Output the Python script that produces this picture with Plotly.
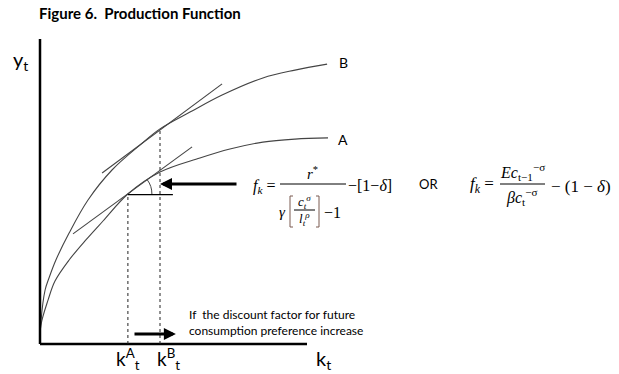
import plotly.graph_objects as go

W, H = 619, 374

# curves (k units, output units)
k_B = [0, 0.03, 0.17, 0.3, 0.53, 0.97, 1.6, 2.4, 3.33, 4.0, 5.0, 6.07, 7.43, 8.5, 9.57]
y_B = [0, 0.73, 1.8, 2.2, 2.8, 3.7, 4.8, 5.8, 6.63, 7.17, 7.73, 8.3, 8.87, 9.13, 9.33]
k_A = [0, 0.03, 0.27, 0.5, 0.97, 1.53, 2.1, 2.93, 4.0, 5.33, 6.33, 7.43, 8.5, 9.6]
y_A = [0, 0.63, 1.47, 2.1, 2.8, 3.47, 4.1, 5.0, 5.73, 6.2, 6.5, 6.73, 6.83, 6.87]

# tangent segments
tan_B_k = [2.07, 6.07]
tan_B_y = [5.7, 8.67]
tan_A_k = [1.1, 5.07]
tan_A_y = [3.67, 6.57]

# steady-state capital points
k_star = [2.93, 4.0]
y_star = [5.0, 7.15]
k_max, y_max = 8.9, 10.17

# pixel helpers for paper-positioned text
def px(x):
    return x / W

def py(y):
    return 1 - y / H

fig = go.Figure()
curve = dict(color="#444", width=1.1)
fig.add_trace(go.Scatter(x=k_B, y=y_B, mode="lines", line=dict(shape="spline", smoothing=1, **curve)))
fig.add_trace(go.Scatter(x=k_A, y=y_A, mode="lines", line=dict(shape="spline", smoothing=1, **curve)))
fig.add_trace(go.Scatter(x=tan_B_k, y=tan_B_y, mode="lines", line=curve))
fig.add_trace(go.Scatter(x=tan_A_k, y=tan_A_y, mode="lines", line=curve))

# axes
fig.add_shape(type="line", x0=0, y0=0, x1=0, y1=y_max, line=dict(color="black", width=2.5))
fig.add_shape(type="line", x0=0, y0=0, x1=k_max, y1=0, line=dict(color="black", width=2.5))

# dashed drop lines
for k, y in zip(k_star, y_star):
    fig.add_shape(type="line", x0=k, y0=0, x1=k, y1=y, line=dict(color="#222", width=1, dash="dot"))

# horizontal line and angle arc at A
fig.add_shape(type="line", x0=k_star[0], y0=y_star[0] - 0.02, x1=k_star[0] + 1.5, y1=y_star[0] - 0.02,
              line=dict(color="black", width=1.1))
r = 0.8
fig.add_shape(type="path",
              path=f"M {k_star[0] + r} {y_star[0]} Q {k_star[0] + r} {y_star[0] + 0.27} {k_star[0] + 0.647} {y_star[0] + 0.47}",
              line=dict(color="#444", width=1))

# arrows
fig.add_annotation(x=4.0, y=5.33, ax=6.6, ay=5.33, xref="x", yref="y", axref="x", ayref="y",
                   showarrow=True, arrowhead=2, arrowsize=0.8, arrowwidth=3, arrowcolor="black", text="")
fig.add_annotation(x=4.53, y=0.33, ax=3.1, ay=0.33, xref="x", yref="y", axref="x", ayref="y",
                   showarrow=True, arrowhead=2, arrowsize=0.8, arrowwidth=3, arrowcolor="black", text="")

def label(x, y, text, size, family="Lato", color="black", xanchor="center"):
    fig.add_annotation(x=px(x), y=py(y), xref="paper", yref="paper", text=text, showarrow=False,
                       font=dict(size=size, family=family, color=color), xanchor=xanchor, yanchor="middle")

label(37, 13, "<b>Figure 6.  Production Function</b>", 15, xanchor="left")
label(20, 61, "y<sub>t</sub>", 20)
label(323, 359, "k<sub>t</sub>", 20)
label(128, 359, "k<sup>A</sup><sub>t</sub>", 19)
label(168, 359, "k<sup>B</sup><sub>t</sub>", 19)
label(343, 62, "B", 14)
label(343, 140, "A", 14)
label(187, 314, "If  the discount factor for future", 12, xanchor="left")
label(187, 330, "consumption preference increase", 12, xanchor="left")

serif = "Liberation Serif"
# formula 1
label(264, 186, "<i>f<sub>k</sub></i> =", 16, serif)
label(312, 173, "<i>r</i><sup>*</sup>", 15, serif)
label(282, 212, "<i>γ</i>", 15, serif)
label(304, 202, "<i>c<sub>t</sub><sup>σ</sup></i>", 13, serif)
label(304, 219, "<i>l<sub>t</sub><sup>ρ</sup></i>", 13, serif)
label(332, 212, "−1", 16, serif)
label(370, 185, "−[1−<i>δ</i>]", 16, serif)
label(428, 184, "OR", 13)
# formula 2
label(482, 185, "<i>f<sub>k</sub></i> =", 17, serif)
label(522, 172, "<i>Ec</i><sub>t−1</sub><sup>−σ</sup>", 16, serif)
label(522, 197, "<i>βc</i><sub>t</sub><sup>−σ</sup>", 16, serif)
label(581, 186, "− (1 − <i>δ</i>)", 17, serif)

# fraction bars and brackets (paper coords)
def pline(x0, y0, x1, y1, color="black", width=1):
    fig.add_shape(type="line", xref="paper", yref="paper", x0=px(x0), y0=py(y0), x1=px(x1), y1=py(y1),
                  line=dict(color=color, width=width))

pline(280, 184, 346, 184)
pline(294, 210, 315, 210)
pline(500, 184, 545, 184)
br = "#7a5a50"
pline(290, 196, 290, 227, br)
pline(290, 196, 293, 196, br)
pline(290, 227, 293, 227, br)
pline(319, 196, 319, 227, br)
pline(316, 196, 319, 196, br)
pline(316, 227, 319, 227, br)

fig.update_layout(
    width=W, height=H, margin=dict(l=0, r=0, t=0, b=0),
    paper_bgcolor="white", plot_bgcolor="white", showlegend=False,
    xaxis=dict(range=[-40 / 30, (W - 40) / 30], visible=False, fixedrange=True),
    yaxis=dict(range=[-(H - 344) / 30, 344 / 30], visible=False, fixedrange=True),
)
fig.write_html("out.html", config={"displayModeBar": False},
               post_script="document.body.style.margin='0';document.body.style.overflow='hidden';")
